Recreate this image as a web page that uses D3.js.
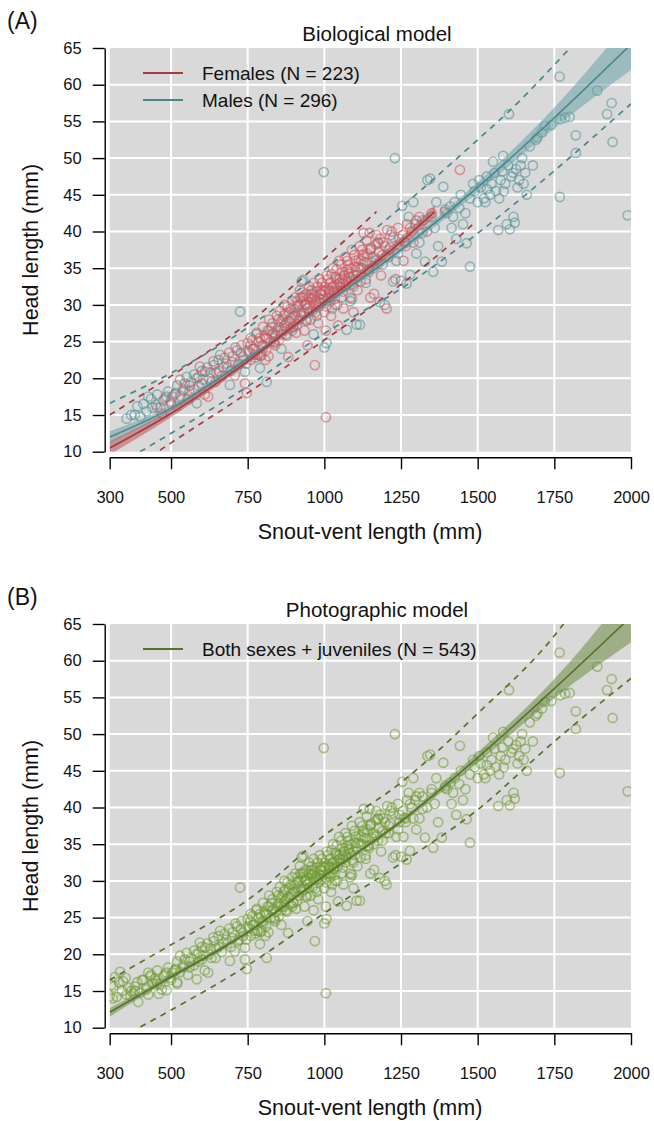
<!DOCTYPE html>
<html><head><meta charset="utf-8">
<script src="https://cdn.jsdelivr.net/npm/d3@7"></script>
<style>body{margin:0;background:#fff} text{font-family:"Liberation Sans",Arial,sans-serif;fill:#111}</style>
</head><body>
<svg id="c" width="654" height="1121"></svg>
<script>
// ---- tick labels ----
const xTicks = [300, 500, 750, 1000, 1250, 1500, 1750, 2000];
const yTicks = [10, 15, 20, 25, 30, 35, 40, 45, 50, 55, 60, 65];

// ---- observed points ----
const femaleSVL = [455,470,480,500,510,520,529,540,555,560,575,590,594,600,610,621,630,638,645,655,665,675,685,690,700,708,715,722,730,735,
741,747,750,755,760,765,770,778,782,790,795,800,805,810,815,820,825,830,835,840,845,850,855,860,865,870,875,882,885,890,895,900,
905,910,915,920,925,930,935,940,945,950,955,960,965,969,972,975,980,985,990,995,1000,1005,1008,1012,1018,1022,1028,1032,1038,1042,1048,1052,1058,1062,1068,1072,1078,1085,1090,1095,
1100,1108,1115,1120,1128,1135,1140,1148,1155,1162,1170,1178,1185,1192,1203,1210,1220,1232,1245,1258,1270,1290,1310,1335,1350,1393,1442,
880,930,960,990,1010,1040,1060,1080,1110,1130,940,970,1000,1025,1050,1075,1100,1125,1150,1175,
800,812,818,828,838,848,852,858,868,872,878,888,892,898,902,908,912,918,922,928,932,938,942,948,952,958,962,968,974,978,982,988,992,998,
1002,1006,1010,1015,1020,1024,1030,1034,1040,1044,1050,1055,1060,1065,1070,1075,1082,1088,1092,1098,1104,1112,1118,1124,1132,1138,1145,1152,1160,1168,1175,1182,1190,1198,
1205,1215,1225,1240,1255,1265,1280,1300,760,772,785,792,808,945,1005,1045,1095,1150];
const femaleHL = [16.0,15.2,17.3,16.5,17.8,16.2,19.8,18.3,17.2,19.0,18.5,20.2,21.6,19.3,17.8,17.5,20.8,22.3,19.5,21.0,20.3,22.8,21.5,23.5,22.2,20.4,23.8,22.0,24.5,23.0,
19.3,18.0,24.8,23.5,22.5,25.2,24.0,26.0,23.2,25.5,24.5,27.0,25.8,23.8,26.5,28.0,25.0,27.5,26.2,24.5,28.5,27.0,29.2,26.0,28.0,30.0,27.5,22.9,29.0,26.8,30.5,28.5,
31.0,27.2,29.8,32.0,28.5,30.5,26.5,31.5,29.5,32.5,28.0,30.8,33.0,21.8,29.0,31.8,27.5,33.5,30.2,32.0,29.0,14.7,34.0,31.0,33.0,28.5,35.0,31.8,33.8,30.0,36.0,32.5,34.5,29.5,36.5,33.2,35.5,31.0,37.5,34.0,
36.0,32.0,38.0,35.0,39.8,33.5,37.0,39.8,35.8,31.5,39.5,37.2,34.0,38.5,29.5,36.5,40.0,33.5,38.0,36.0,41.0,38.5,42.0,40.0,42.5,42.7,48.4,
29.8,31.2,31.0,31.5,32.2,32.8,33.6,34.2,35.2,36.6,30.0,30.6,31.8,32.4,33.0,34.8,35.2,36.8,37.6,38.4,
24.2,25.5,23.0,26.0,24.8,26.5,25.2,27.8,26.5,28.8,25.8,27.8,28.2,27.0,29.5,26.2,30.5,28.0,29.0,31.0,28.8,30.0,27.8,31.0,30.0,32.0,29.2,31.2,30.2,32.5,29.8,31.5,33.0,30.8,
32.5,29.8,33.5,31.8,30.5,34.2,32.5,30.8,34.8,32.0,33.5,35.5,31.8,34.0,32.5,36.0,33.8,35.0,32.8,36.8,34.5,36.2,33.2,37.5,35.8,38.8,34.8,37.8,36.5,38.2,35.5,39.0,36.8,38.0,
40.2,37.8,39.2,40.5,39.5,38.0,40.5,41.5,24.5,23.2,25.0,23.0,22.5,24.5,26.5,27.2,29.0,31.0];

const maleSVL = [355,370,382,390,400,410,426,440,455,475,490,505,520,540,551,565,584,584,600,611,625,640,655,670,692,700,710,725,735,741,
750,760,775,790,800,812,820,835,850,860,875,890,900,915,926,931,940,955,965,980,998,1000,1007,1015,1025,1040,1055,1073,1080,1095,1105,1116,1120,1135,1150,1160,1175,1181,1197,1200,1215,1224,1230,1240,1250,1254,1268,1275,1279,1290,1296,1310,1328,1336,1345,1355,1360,1371,1383,1388,1400,1410,1415,1420,1430,1452,1464,1475,1475,1490,1500,1510,1520,1530,1540,1550,1560,1567,1575,1583,1590,1595,1600,1602,1605,1610,1617,1621,1625,1630,1640,1650,1660,1670,1690,1695,1719,1768,1767,1770,1785,1800,1820,1820,1890,1922,1937,1940,1989,
870,905,945,985,1030,1060,1090,1140,1170,1260,1320,1440,1530,1580,
420,435,450,465,485,498,515,530,545,560,575,590,605,618,632,648,660,680,695,718,728,745,765,780,795,808,828,842,858,868,882,895,910,922,935,950,962,975,990,1003,
1020,1035,1050,1065,1085,1100,1125,1145,1165,1190,1210,1235,1245,1265,1285,1300,1320,1350,1365,1395,1425,1445,1460,1485,1505,1525,1545,1555,1570,1585,1615,1635,1645,1655,1680,1710,1740];
const maleHL = [14.5,15.0,15.0,16.2,14.8,16.5,17.5,16.0,17.8,17.0,18.2,17.5,19.0,18.5,20.2,19.5,16.6,20.0,21.0,20.9,20.0,21.8,22.5,21.5,19.1,23.0,24.2,29.1,22.5,20.9,
23.8,25.5,22.8,21.4,24.5,19.5,26.5,25.0,28.0,24.0,26.0,29.5,27.0,30.0,33.2,33.4,28.0,31.5,26.0,30.5,48.1,24.2,24.8,32.0,29.5,33.5,31.0,26.6,34.5,32.5,27.3,27.3,36.0,33.0,37.5,35.0,38.5,30.4,30.0,36.5,39.5,33.2,50.0,37.0,33.3,43.5,32.9,42.0,34.1,44.0,41.0,38.5,35.9,47.0,47.2,34.5,40.5,38.0,35.9,46.1,42.5,43.4,40.5,42.0,39.0,41.0,38.4,35.2,44.5,45.5,44.0,46.0,44.5,47.5,45.0,49.5,45.5,40.2,47.0,50.3,46.5,41.0,49.0,56.0,40.3,47.5,42.0,41.2,48.5,46.0,49.0,46.5,45.0,51.6,52.5,52.8,54.4,44.7,61.1,55.3,55.5,55.6,53.1,50.7,59.2,56.0,57.5,52.2,42.2,
27.2,28.6,29.6,30.8,31.6,33.0,30.8,34.8,36.2,38.6,39.8,43.2,45.8,48.2,
15.5,17.2,16.4,16.0,17.5,16.8,18.0,17.6,19.3,18.2,20.5,19.0,19.8,21.5,19.5,20.8,23.2,22.0,21.0,21.8,23.5,22.0,24.0,26.2,23.2,25.5,27.0,25.8,26.5,28.5,27.8,26.5,29.0,31.0,30.2,29.0,31.5,28.5,32.0,30.5,
31.0,30.0,33.0,34.0,30.5,33.5,35.0,34.5,36.0,35.5,37.5,36.0,39.0,38.5,40.0,37.0,41.5,42.0,44.0,43.0,44.0,45.0,42.5,46.5,47.0,44.0,46.5,48.0,44.5,45.5,48.0,47.0,50.0,48.0,49.0,53.5,54.5];

const juvSVL = [300,305,310,312,317,323,330,334,340,344,352,360,368,377,382,393,405,420,426,432,448,460,486,520];
const juvHL = [14.3,15.8,14.0,15.6,16.9,14.2,16.2,17.6,15.0,16.3,16.8,15.5,14.3,14.7,15.6,13.5,16.5,15.2,14.5,17.0,16.7,14.6,15.1,16.0];

// ---- fitted curves ----
const femaleFitX = [300, 500, 750, 1000, 1150, 1250, 1360];
const femaleFit  = [10.5, 15.2, 22.3, 30.4, 35.2, 38.6, 42.7];
const femaleCILo = [9.6, 14.7, 21.95, 30.05, 34.7, 37.95, 41.8];
const femaleCIHi = [11.4, 15.7, 22.65, 30.75, 35.7, 39.25, 43.6];
const femalePIUpX = [300, 500, 750, 1000, 1170];
const femalePIUp  = [15.0, 20.3, 27.5, 36.3, 42.7];
const femalePILoX = [464, 500, 750, 1000, 1116, 1250, 1410, 1495];
const femalePILo  = [10.2, 11.2, 18.0, 25.2, 28.6, 32.8, 38.2, 41.4];

const maleFitX = [300, 500, 750, 1000, 1250, 1500, 1750, 2000];
const maleFit  = [12.0, 15.9, 22.7, 30.0, 37.5, 46.0, 55.5, 65.5];
const maleCILo = [11.2, 15.5, 22.4, 29.7, 37.1, 45.3, 54.1, 62.0];
const maleCIHi = [12.8, 16.3, 23.0, 30.3, 37.9, 46.7, 56.9, 69.0];
const malePIUpX = [300, 500, 750, 1000, 1250, 1500, 1600, 1801];
const malePIUp  = [16.6, 20.7, 26.9, 34.8, 43.3, 52.5, 56.3, 65.0];
const malePILoX = [399, 500, 750, 1000, 1250, 1464, 1714, 2000];
const malePILo  = [10.0, 12.5, 18.9, 26.1, 32.2, 38.6, 47.0, 57.4];

const allFitX = [300, 400, 500, 750, 1000, 1250, 1500, 1750, 2000];
const allFit  = [12.1, 14.5, 16.9, 23.0, 30.7, 38.1, 46.8, 56.2, 66.0];
const allCILo = [11.5, 14.1, 16.55, 22.75, 30.45, 37.75, 46.1, 54.9, 62.5];
const allCIHi = [12.7, 14.9, 17.25, 23.25, 30.95, 38.45, 47.5, 57.5, 70.0];
const allPIUpX = [300, 500, 750, 1000, 1250, 1500, 1750, 1780];
const allPIUp  = [16.5, 21.3, 27.4, 36.2, 43.4, 52.8, 63.4, 65.0];
const allPILoX = [400, 500, 750, 1000, 1250, 1500, 1750, 2000];
const allPILo  = [10.1, 12.4, 18.5, 25.6, 32.4, 39.7, 49.0, 57.6];

const svg = d3.select("#c");
const X0 = 109.7, X1 = 631;
const x = d3.scaleLinear().domain([300, 2000]).range([X0, X1]);

const zip = (a, b) => a.map((v, i) => [v, b[i]]);

function panel(top, cfg) {
  const yTop = top, yBot = top + 403.7;
  const y = d3.scaleLinear().domain([10, 65]).range([yBot, yTop]);
  const g = svg.append("g");
  const id = "clip" + top;
  svg.append("clipPath").attr("id", id).append("rect")
    .attr("x", X0).attr("y", yTop).attr("width", X1 - X0).attr("height", yBot - yTop);
  g.append("rect").attr("x", X0).attr("y", yTop).attr("width", X1 - X0).attr("height", yBot - yTop).attr("fill", "#d9d9d9");
  // grid
  g.selectAll(".gx").data(xTicks.slice(1, -1)).join("line")
    .attr("x1", d => x(d)).attr("x2", d => x(d)).attr("y1", yTop).attr("y2", yBot)
    .attr("stroke", "#fff").attr("stroke-width", 2);
  g.selectAll(".gy").data(yTicks.slice(1, -1)).join("line")
    .attr("y1", d => y(d)).attr("y2", d => y(d)).attr("x1", X0).attr("x2", X1)
    .attr("stroke", "#fff").attr("stroke-width", 2);

  const pg = g.append("g").attr("clip-path", `url(#${id})`);
  cfg.points.forEach(p => {
    pg.append("g").selectAll("circle").data(zip(p.x, p.y)).join("circle")
      .attr("cx", d => x(d[0])).attr("cy", d => y(d[1])).attr("r", 4.6)
      .attr("fill", "none").attr("stroke", p.color).attr("stroke-width", 1.6).attr("stroke-opacity", 0.55);
  });
  const line = d3.line().x(d => x(d[0])).y(d => y(d[1])).curve(d3.curveMonotoneX);
  const area = d3.area().x(d => x(d[0])).y0(d => y(d[1])).y1(d => y(d[2])).curve(d3.curveMonotoneX);
  cfg.fits.forEach(f => {
    pg.append("path").datum(f.fx.map((v, i) => [v, f.lo[i], f.hi[i]]))
      .attr("d", area).attr("fill", f.band).attr("fill-opacity", 0.55);
    pg.append("path").datum(zip(f.fx, f.fit)).attr("d", line)
      .attr("fill", "none").attr("stroke", f.color).attr("stroke-width", 1.6);
    [[f.ux, f.up], [f.lx, f.low]].forEach(([a, b]) => {
      pg.append("path").datum(zip(a, b)).attr("d", line)
        .attr("fill", "none").attr("stroke", f.color).attr("stroke-width", 1.7)
        .attr("stroke-dasharray", "6,5.5");
    });
  });

  // axes
  const ax = g.append("g").attr("transform", `translate(0,${yBot + 5.5})`)
    .call(d3.axisBottom(x).tickValues(xTicks).tickFormat(d3.format("d")).tickSize(12).tickSizeOuter(0).tickPadding(22));
  const ay = g.append("g").attr("transform", `translate(${X0 - 5},0)`)
    .call(d3.axisLeft(y).tickValues(yTicks).tickFormat(d3.format("d")).tickSize(12).tickSizeOuter(0).tickPadding(11));
  [ax, ay].forEach(a => {
    a.select(".domain").attr("stroke", "#000").attr("stroke-width", 1.4);
    a.selectAll(".tick line").attr("stroke", "#000").attr("stroke-width", 1.4);
    a.selectAll(".tick text").attr("font-size", 16.5).attr("fill", "#111")
      .attr("font-family", '"Liberation Sans",Arial,sans-serif');
  });

  g.append("text").attr("x", 370).attr("y", yBot + 87).attr("text-anchor", "middle")
    .attr("font-size", 21.5).text("Snout-vent length (mm)");
  g.append("text").attr("transform", `translate(38,${(yTop + yBot) / 2}) rotate(-90)`)
    .attr("text-anchor", "middle").attr("font-size", 21.5).text("Head length (mm)");
  g.append("text").attr("x", 377).attr("y", yTop - 7).attr("text-anchor", "middle")
    .attr("font-size", 20.5).text(cfg.title);
  g.append("text").attr("x", 7).attr("y", yTop - 19).attr("font-size", 23).text(cfg.tag);

  cfg.legend.forEach((l, i) => {
    const ly = yTop + 25 + i * 27;
    g.append("line").attr("x1", 143).attr("x2", 183).attr("y1", ly).attr("y2", ly)
      .attr("stroke", l.color).attr("stroke-width", 2);
    g.append("text").attr("x", 202).attr("y", ly + 7).attr("font-size", 19).text(l.label);
  });
}

const RED = "#a53b3d", RED_PT = "#d4545c", RED_BAND = "#b8565a";
const TEAL = "#4a878d", TEAL_PT = "#4f8f96", TEAL_BAND = "#6aa2a7";
const GREEN = "#55732a", GREEN_PT = "#6f9a30", GREEN_BAND = "#6d8c45";

panel(48, {
  title: "Biological model", tag: "(A)",
  points: [{x: maleSVL, y: maleHL, color: TEAL_PT}, {x: femaleSVL, y: femaleHL, color: RED_PT}],
  fits: [
    {fx: maleFitX, fit: maleFit, lo: maleCILo, hi: maleCIHi, ux: malePIUpX, up: malePIUp, lx: malePILoX, low: malePILo, color: TEAL, band: TEAL_BAND},
    {fx: femaleFitX, fit: femaleFit, lo: femaleCILo, hi: femaleCIHi, ux: femalePIUpX, up: femalePIUp, lx: femalePILoX, low: femalePILo, color: RED, band: RED_BAND}
  ],
  legend: [{label: "Females (N = 223)", color: RED}, {label: "Males (N = 296)", color: TEAL}]
});

panel(624, {
  title: "Photographic model", tag: "(B)",
  points: [{x: maleSVL.concat(femaleSVL, juvSVL), y: maleHL.concat(femaleHL, juvHL), color: GREEN_PT}],
  fits: [
    {fx: allFitX, fit: allFit, lo: allCILo, hi: allCIHi, ux: allPIUpX, up: allPIUp, lx: allPILoX, low: allPILo, color: GREEN, band: GREEN_BAND}
  ],
  legend: [{label: "Both sexes + juveniles (N = 543)", color: GREEN}]
});
</script>
</body></html>
